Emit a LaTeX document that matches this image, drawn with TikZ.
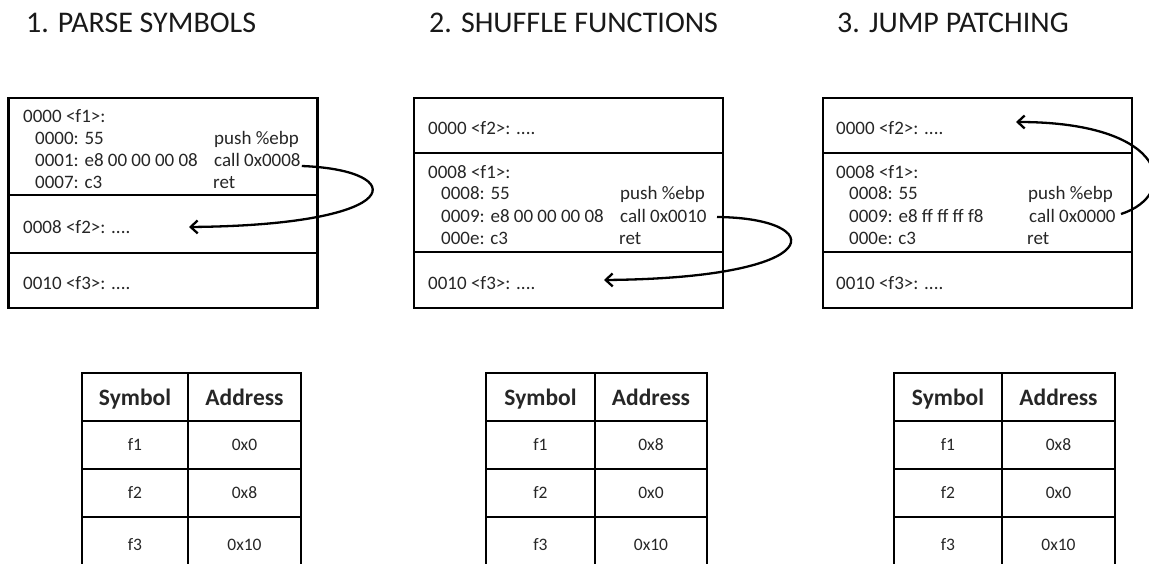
\documentclass[tikz,border=0pt]{standalone}
\usepackage{fontspec}
\setmainfont{Carlito}
\usetikzlibrary{arrows.meta}
\begin{document}
\begin{tikzpicture}[x=1pt,y=-1pt,
  title/.style={anchor=base west,inner sep=0pt,font=\fontsize{30}{30}\selectfont,text=black!90},
  code/.style={anchor=base west,inner sep=0pt,font=\fontsize{19}{19}\selectfont,text=black!85},
  memsec/.style={draw,line width=2.3pt,minimum width=309pt,inner sep=0pt},
  cell/.style={draw,line width=2.6pt,inner sep=0pt,text height=12pt,text depth=2pt,
    font=\fontsize{17.5}{17.5}\selectfont,text=black!85},
  hcell/.style={cell,text height=16pt,text depth=0pt,font=\bfseries\fontsize{23.5}{23.5}\selectfont},
  jump/.style={line width=2.3pt,-{Straight Barb[length=7pt,width=13pt,line width=2.3pt]}}]
\useasboundingbox (0,0) rectangle (1149,563);
\clip (0,0) rectangle (1149,563);

% ---------- titles ----------
\node[title] (t1) at (26,32) {1. PARSE SYMBOLS};
\node[title] (t2) at (429,32) {2. SHUFFLE FUNCTIONS};
\node[title] (t3) at (837,32) {3. JUMP PATCHING};

% ---------- panel 1: original layout ----------
\node[memsec,minimum height=97pt] (a1) at (163,146.5) {};
\node[memsec,minimum height=58pt] (a2) at (163,224) {};
\node[memsec,minimum height=55pt] (a3) at (163,280.5) {};
\node[code] (a1h) at (23,122) {0000 <f1>:};
\node[code] (a1l1) at (35,144) {0000: 55};
\node[code] (a1r1) at (214,144) {push \%ebp};
\node[code] (a1l2) at (35,166) {0001: e8 00 00 00 08};
\node[code] (a1r2) at (214,166) {call 0x0008};
\node[code] (a1l3) at (35,188) {0007: c3};
\node[code] (a1r3) at (213,188) {ret};
\node[code] (a2h) at (23,233) {0008 <f2>: ....};
\node[code] (a3h) at (23,289) {0010 <f3>: ....};
\coordinate (a2t) at (189,227);
\draw[jump] (a1r2.base east) ++(1,0) .. controls (410,170) and (410,225) .. (a2t);

% ---------- panel 2: shuffled layout ----------
\node[memsec,minimum height=55pt] (b1) at (568.5,125.5) {};
\node[memsec,minimum height=99pt] (b2) at (568.5,202.5) {};
\node[memsec,minimum height=56pt] (b3) at (568.5,280) {};
\node[code] (b1h) at (428,134) {0000 <f2>: ....};
\node[code] (b2h) at (428,178) {0008 <f1>:};
\node[code] (b2l1) at (441,199) {0008: 55};
\node[code] (b2r1) at (620,199) {push \%ebp};
\node[code] (b2l2) at (441,222) {0009: e8 00 00 00 08};
\node[code] (b2r2) at (620,222) {call 0x0010};
\node[code] (b2l3) at (441,244) {000e: c3};
\node[code] (b2r3) at (619,244) {ret};
\node[code] (b3h) at (428,289) {0010 <f3>: ....};
\coordinate (b3t) at (604,280);
\draw[jump] (717,217) .. controls (828,218) and (832,278) .. (b3t);

% ---------- panel 3: patched jump ----------
\node[memsec,minimum height=55pt] (c1) at (977.5,125.5) {};
\node[memsec,minimum height=99pt] (c2) at (977.5,202.5) {};
\node[memsec,minimum height=56pt] (c3) at (977.5,280) {};
\node[code] (c1h) at (836,134) {0000 <f2>: ....};
\node[code] (c2h) at (836,178) {0008 <f1>:};
\node[code] (c2l1) at (849,199) {0008: 55};
\node[code] (c2r1) at (1028,199) {push \%ebp};
\node[code] (c2l2) at (849,222) {0009: e8 ff ff ff f8};
\node[code] (c2r2) at (1029,222) {call 0x0000};
\node[code] (c2l3) at (849,244) {000e: c3};
\node[code] (c2r3) at (1027,244) {ret};
\node[code] (c3h) at (836,289) {0010 <f3>: ....};
\coordinate (c1t) at (1016,122);
\draw[jump] (1121,214) .. controls (1180,195) and (1170,122) .. (c1t);

% ---------- symbol tables ----------
\foreach \tb/\xl/\xm/\xr/\va/\vb in {1/82/188/301/0x0/0x8, 2/486/595/707/0x8/0x0, 3/894/1002/1115/0x8/0x0}{
  \pgfmathsetmacro{\wa}{\xm-\xl}
  \pgfmathsetmacro{\wb}{\xr-\xm}
  \pgfmathsetmacro{\ca}{(\xl+\xm)/2}
  \pgfmathsetmacro{\cb}{(\xm+\xr)/2}
  \node[hcell,minimum width=\wa pt,minimum height=48pt] (s\tb h) at (\ca,397) {Symbol};
  \node[hcell,minimum width=\wb pt,minimum height=48pt] (a\tb h) at (\cb,397) {Address};
  \node[cell,minimum width=\wa pt,minimum height=48pt] (s\tb r1) at (\ca,445) {f1};
  \node[cell,minimum width=\wb pt,minimum height=48pt] (a\tb r1) at (\cb,445) {\va};
  \node[cell,minimum width=\wa pt,minimum height=48pt] (s\tb r2) at (\ca,493) {f2};
  \node[cell,minimum width=\wb pt,minimum height=48pt] (a\tb r2) at (\cb,493) {\vb};
  \node[cell,minimum width=\wa pt,minimum height=56pt] (s\tb r3) at (\ca,545) {f3};
  \node[cell,minimum width=\wb pt,minimum height=56pt] (a\tb r3) at (\cb,545) {0x10};
}
\end{tikzpicture}
\end{document}
